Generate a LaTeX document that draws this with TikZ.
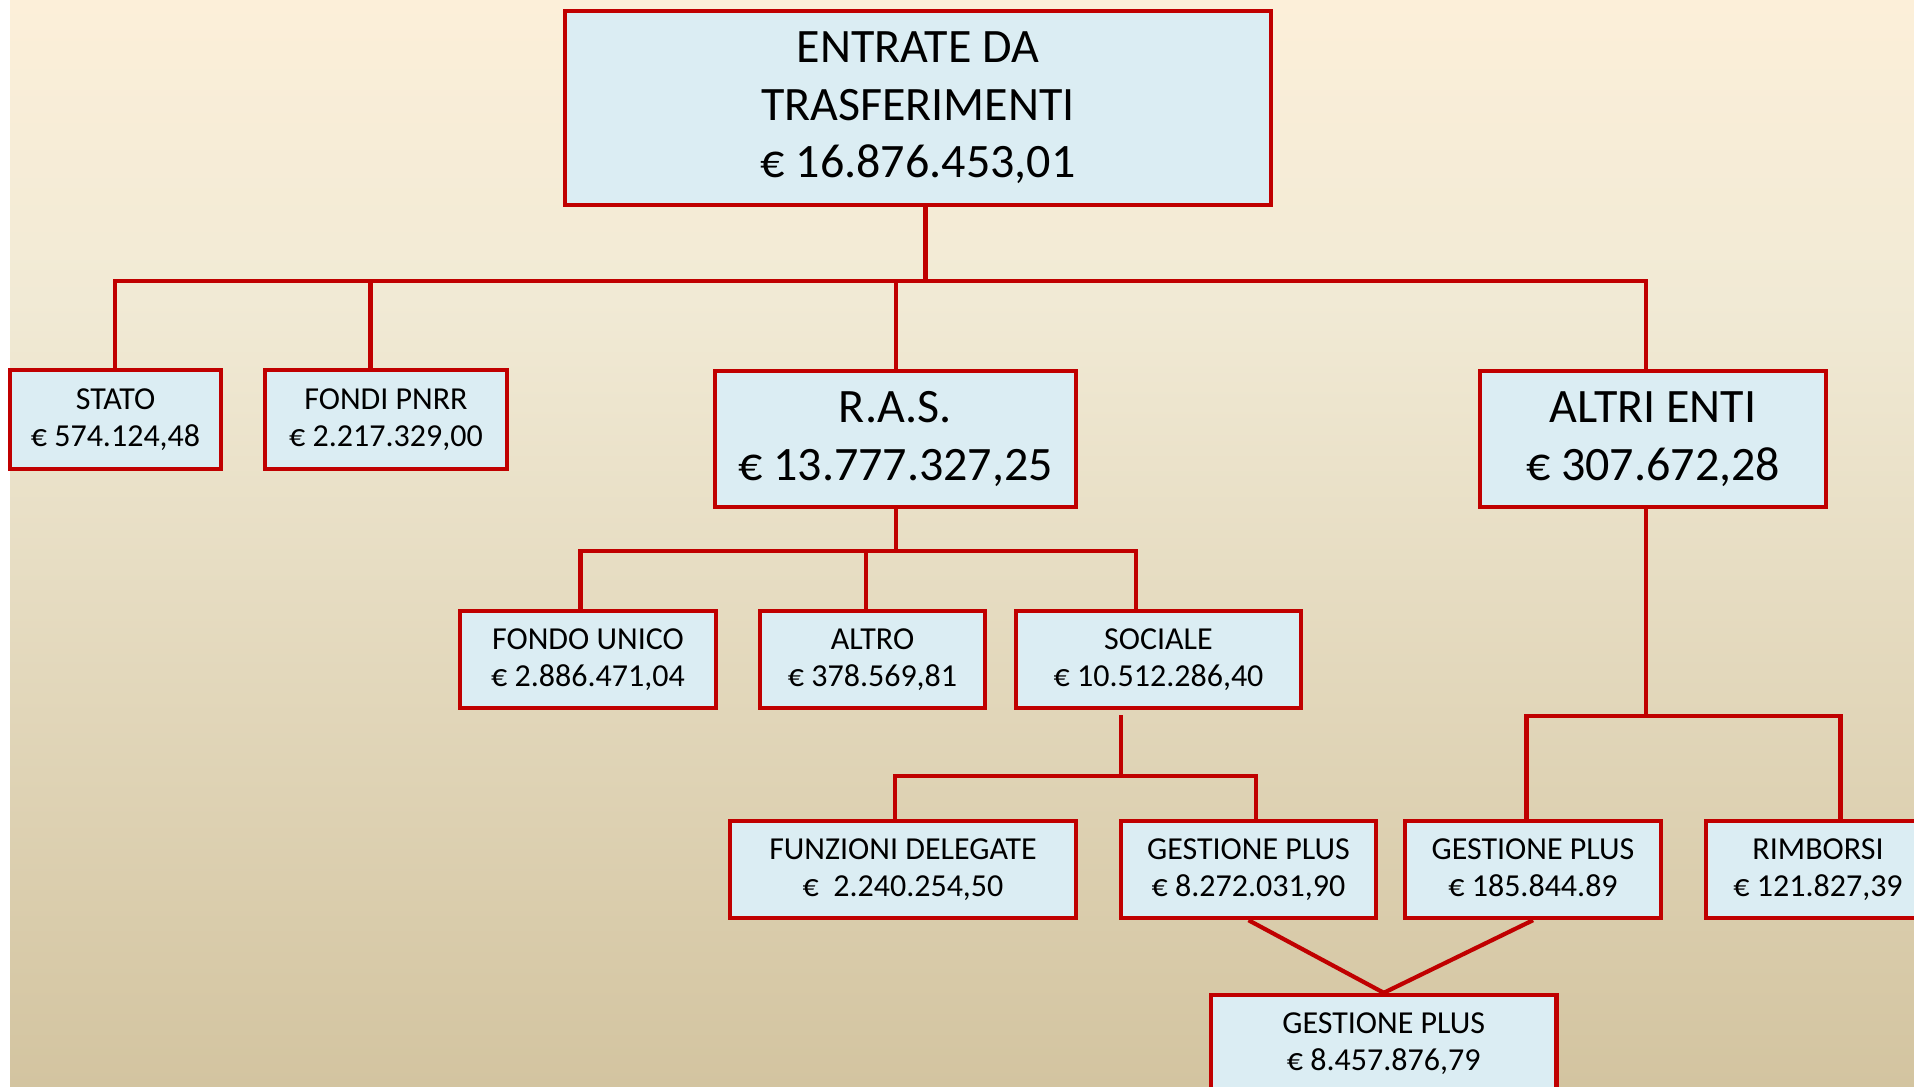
\documentclass[tikz,border=0pt]{standalone}
\usepackage{fontspec}
\setmainfont{Carlito}
\definecolor{bgtop}{RGB}{252,239,217}
\definecolor{bgmid}{RGB}{241,234,213}
\definecolor{bgbot}{RGB}{211,196,160}
\definecolor{boxred}{RGB}{192,0,0}
\definecolor{boxfill}{RGB}{219,237,243}
\tikzset{
  orgbox/.style={draw=boxred, fill=boxfill, line width=2.2pt, rectangle, align=center, inner sep=0pt, text=black},
  bigtext/.style={font=\fontsize{24}{28.8}\selectfont},
  smalltext/.style={font=\fontsize{16}{18.8}\selectfont},
  conn/.style={draw=boxred, line width=2.1pt, line cap=rect, line join=miter}
}
\begin{document}
\begin{tikzpicture}[x=0.5pt,y=-0.5pt]
\useasboundingbox (0,0) rectangle (1914,1086);
% background
\fill[white] (0,0) rectangle (1914,1086);
\shade[top color=bgtop, bottom color=bgmid] (10,0) rectangle (1914,300);
\shade[top color=bgmid, bottom color=bgbot] (10,300) rectangle (1914,1086);

% nodes
\node[orgbox, bigtext, minimum width=353pt, minimum height=97pt] (top) at (918,108) {ENTRATE DA\\TRASFERIMENTI\\€ 16.876.453,01};
\node[orgbox, smalltext, minimum width=105.5pt, minimum height=49.5pt] (stato) at (115.5,419.5) {STATO\\€ 574.124,48};
\node[orgbox, smalltext, minimum width=121pt, minimum height=49.5pt] (fondi) at (386,419.5) {FONDI PNRR\\€ 2.217.329,00};
\node[orgbox, bigtext, minimum width=180.5pt, minimum height=68pt] (ras) at (895.5,439) {R.A.S.\\€ 13.777.327,25};
\node[orgbox, bigtext, minimum width=172.75pt, minimum height=68pt] (altri) at (1653,439) {ALTRI ENTI\\€ 307.672,28};
\node[orgbox, smalltext, minimum width=127.75pt, minimum height=48.5pt] (fondo) at (588,659.5) {FONDO UNICO\\€ 2.886.471,04};
\node[orgbox, smalltext, minimum width=112.5pt, minimum height=48.5pt] (altro) at (872.5,659.5) {ALTRO\\€ 378.569,81};
\node[orgbox, smalltext, minimum width=142.5pt, minimum height=48.5pt] (sociale) at (1158.5,659.5) {SOCIALE\\€ 10.512.286,40};
\node[orgbox, smalltext, minimum width=173pt, minimum height=48.5pt] (funz) at (903,869.5) {FUNZIONI DELEGATE\\€~~2.240.254,50};
\node[orgbox, smalltext, minimum width=127.5pt, minimum height=48.5pt] (gp1) at (1248.5,869.5) {GESTIONE PLUS\\€ 8.272.031,90};
\node[orgbox, smalltext, minimum width=127.75pt, minimum height=48.5pt] (gp2) at (1533,869.5) {GESTIONE PLUS\\€ 185.844.89\vphantom{,}};
\node[orgbox, smalltext, minimum width=112pt, minimum height=48.5pt] (rimb) at (1818,869.5) {RIMBORSI\\€ 121.827,39};
\node[orgbox, smalltext, minimum width=172.75pt, minimum height=48.5pt] (gpt) at (1383.75,1043.5) {GESTIONE PLUS\\€ 8.457.876,79};

% level 1 connectors
\coordinate (t1) at (925.5,281);
\coordinate (b1L) at (115,281);
\coordinate (b1R) at (1646,281);
\coordinate (f1) at (370.5,281);
\coordinate (r1) at (896,281);
\draw[conn] (t1 |- top.south) -- (t1);
\draw[conn] (b1L |- stato.north) -- (b1L) -- (b1R) -- (b1R |- altri.north);
\draw[conn] (f1) -- (f1 |- fondi.north);
\draw[conn] (r1) -- (r1 |- ras.north);

% RAS connectors
\coordinate (r2) at (896,551);
\coordinate (b2L) at (580.5,551);
\coordinate (b2R) at (1136,551);
\coordinate (a2) at (866,551);
\draw[conn] (r2 |- ras.south) -- (r2);
\draw[conn] (b2L |- fondo.north) -- (b2L) -- (b2R) -- (b2R |- sociale.north);
\draw[conn] (a2) -- (a2 |- altro.north);

% SOCIALE connectors
\coordinate (s3top) at (1121,717);
\coordinate (s3) at (1121,776);
\coordinate (b3L) at (895,776);
\coordinate (b3R) at (1256,776);
\draw[conn] (s3top) -- (s3);
\draw[conn] (b3L |- funz.north) -- (b3L) -- (b3R) -- (b3R |- gp1.north);

% ALTRI ENTI connectors
\coordinate (a4) at (1646,716);
\coordinate (b4L) at (1526.5,716);
\coordinate (b4R) at (1840.5,716);
\draw[conn] (a4 |- altri.south) -- (a4);
\draw[conn] (b4L |- gp2.north) -- (b4L) -- (b4R) -- (b4R |- rimb.north);

% merge
\draw[conn, line cap=butt] (gp1.south) -- (gpt.north);
\draw[conn, line cap=butt] (gp2.south) -- (gpt.north);
\end{tikzpicture}
\end{document}
